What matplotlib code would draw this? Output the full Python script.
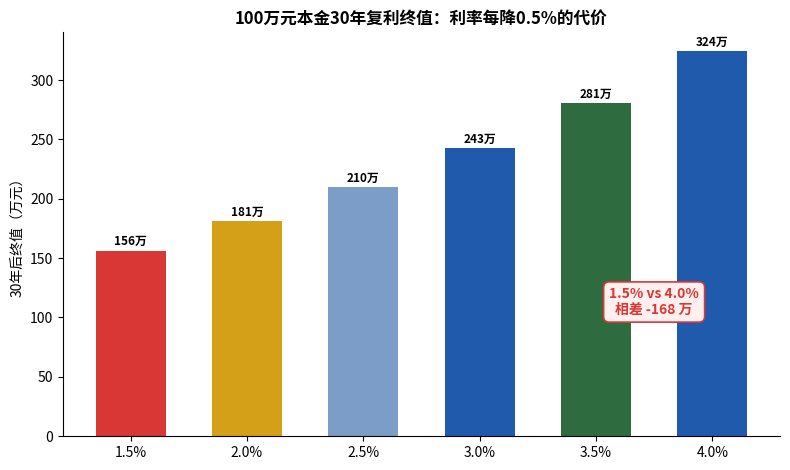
import matplotlib
matplotlib.use("Agg")
import matplotlib.pyplot as plt

plt.rcParams['font.family'] = ['Noto Sans CJK SC', 'DejaVu Sans']
plt.rcParams['axes.unicode_minus'] = False

rates = ["1.5%", "2.0%", "2.5%", "3.0%", "3.5%", "4.0%"]
values = [156.3, 181.1, 209.8, 242.7, 280.7, 324.3]
labels = ["156万", "181万", "210万", "243万", "281万", "324万"]
colors = ["#d93636", "#d4a017", "#7b9dc7", "#1f5aad", "#2e6b3f", "#1f5aad"]

fig, ax = plt.subplots(figsize=(7.9, 4.7), dpi=100)
x = list(range(len(rates)))
bars = ax.bar(x, values, width=0.6, color=colors)
for xi, v, lab in zip(x, values, labels):
    ax.text(xi, v + 2, lab, ha='center', va='bottom', fontsize=8.5, fontweight='bold')

ax.set_xticks(x)
ax.set_xticklabels(rates)
ax.set_ylim(0, 340.5)
ax.set_ylabel("30年后终值（万元）", fontsize=10)
ax.set_title("100万元本金30年复利终值：利率每降0.5%的代价", fontsize=12, fontweight='bold')
ax.spines['top'].set_visible(False)
ax.spines['right'].set_visible(False)
ax.tick_params(labelsize=10)

ax.text(4.5, 113, "1.5% vs 4.0%\n相差 -168 万", ha='center', va='center',
        fontsize=10, fontweight='bold', color='#d93636', linespacing=1.1,
        bbox=dict(boxstyle='round,pad=0.4', facecolor='#fff0f0', edgecolor='#d93636', linewidth=1.2))

fig.subplots_adjust(left=0.08, right=0.987, top=0.932, bottom=0.072)
fig.savefig("out.png", dpi=100)
